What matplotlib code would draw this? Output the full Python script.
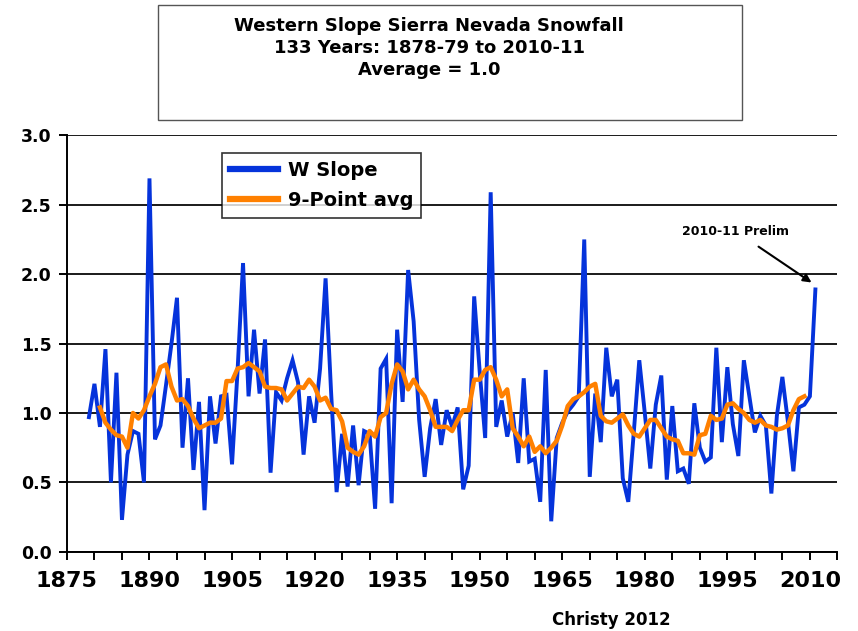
import matplotlib
matplotlib.use("Agg")
import matplotlib.pyplot as plt
from matplotlib.ticker import MultipleLocator, FormatStrFormatter
from matplotlib.patches import Rectangle

# ---- data ----
first_year = 1879
w_slope = [0.97, 1.21, 0.90, 1.46, 0.50, 1.29, 0.23, 0.70, 0.87, 0.85,
           0.50, 2.69, 0.81, 0.91, 1.20, 1.50, 1.83, 0.75, 1.25, 0.59,
           1.08, 0.30, 1.12, 0.78, 1.12, 1.13, 0.63, 1.30, 2.08, 1.12,
           1.60, 1.14, 1.53, 0.57, 1.15, 1.09, 1.25, 1.38, 1.22, 0.70,
           1.12, 0.93, 1.32, 1.97, 1.15, 0.43, 0.85, 0.47, 0.91, 0.48,
           0.87, 0.85, 0.31, 1.32, 1.39, 0.35, 1.60, 1.08, 2.03, 1.66,
           0.95, 0.54, 0.89, 1.10, 0.77, 1.02, 0.90, 1.04, 0.45, 0.62,
           1.84, 1.30, 0.82, 2.59, 0.90, 1.09, 0.83, 1.00, 0.64, 1.25,
           0.65, 0.67, 0.36, 1.31, 0.22, 0.82, 0.93, 1.01, 1.06, 1.12,
           2.25, 0.54, 1.14, 0.79, 1.47, 1.12, 1.24, 0.53, 0.36, 0.86,
           1.38, 1.00, 0.60, 1.06, 1.27, 0.52, 1.05, 0.58, 0.60, 0.49,
           1.07, 0.75, 0.65, 0.68, 1.47, 0.79, 1.33, 0.92, 0.69, 1.38,
           1.12, 0.86, 0.98, 0.91, 0.42, 0.98, 1.26, 0.94, 0.58, 1.04,
           1.06, 1.12, 1.89]
w_years = list(range(first_year, first_year + len(w_slope)))

avg_first_year = 1881
avg9 = [1.04, 0.93, 0.88, 0.84, 0.83, 0.75, 1.00, 0.96, 1.02, 1.12,
        1.21, 1.33, 1.35, 1.19, 1.09, 1.10, 1.05, 0.96, 0.89, 0.91,
        0.93, 0.93, 0.96, 1.23, 1.23, 1.32, 1.33, 1.36, 1.33, 1.30,
        1.19, 1.18, 1.18, 1.17, 1.09, 1.14, 1.19, 1.18, 1.24, 1.19,
        1.09, 1.11, 1.03, 1.02, 0.94, 0.75, 0.72, 0.70, 0.76, 0.87,
        0.83, 0.97, 1.00, 1.21, 1.35, 1.30, 1.17, 1.24, 1.17, 1.12,
        1.02, 0.90, 0.90, 0.90, 0.87, 0.95, 1.02, 1.02, 1.24, 1.24,
        1.31, 1.33, 1.24, 1.12, 1.17, 0.89, 0.83, 0.76, 0.83, 0.72,
        0.76, 0.71, 0.75, 0.80, 0.91, 1.05, 1.10, 1.12, 1.15, 1.19,
        1.21, 0.98, 0.94, 0.93, 0.96, 0.99, 0.91, 0.85, 0.83, 0.89,
        0.95, 0.95, 0.89, 0.83, 0.81, 0.80, 0.71, 0.71, 0.70, 0.84,
        0.85, 0.98, 0.95, 0.96, 1.06, 1.07, 1.03, 1.00, 0.95, 0.93,
        0.95, 0.91, 0.90, 0.88, 0.89, 0.91, 1.02, 1.10, 1.12]
avg_years = list(range(avg_first_year, avg_first_year + len(avg9)))

title_lines = ["Western Slope Sierra Nevada Snowfall",
               "133 Years: 1878-79 to 2010-11",
               "Average = 1.0"]
series_names = ["W Slope", "9-Point avg"]
annotation_text = "2010-11 Prelim"
credit_text = "Christy 2012"

# ---- figure ----
fig = plt.figure(figsize=(8.58, 6.31), dpi=100)
ax = fig.add_axes([0.078, 0.1255, 0.898, 0.660])

ax.plot(w_years, w_slope, color="#0533DB", lw=2.8, label=series_names[0],
        solid_joinstyle="miter", zorder=3)
ax.plot(avg_years, avg9, color="#FF8000", lw=3.2, label=series_names[1], zorder=4)

ax.set_xlim(1875, 2015)
ax.set_ylim(0, 3.0)
ax.yaxis.set_major_locator(MultipleLocator(0.5))
ax.yaxis.set_major_formatter(FormatStrFormatter("%.1f"))
ax.xaxis.set_major_locator(MultipleLocator(15))
ax.xaxis.set_minor_locator(MultipleLocator(5))

ax.grid(axis="y", color="#1a1a1a", lw=1.4, zorder=1)
for s in ["top", "right"]:
    ax.spines[s].set_visible(False)
for s in ["left", "bottom"]:
    ax.spines[s].set_color("black")
    ax.spines[s].set_linewidth(1.4)

ax.tick_params(axis="y", direction="out", length=6, width=1.4, labelsize=12.5, pad=5)
ax.tick_params(axis="x", which="both", direction="out", length=6, width=1.4)
ax.tick_params(axis="x", which="major", labelsize=16, pad=8)
for lab in ax.get_xticklabels() + ax.get_yticklabels():
    lab.set_fontweight("bold")

leg = ax.legend(loc="upper left", bbox_to_anchor=(0.201, 0.957), borderaxespad=0,
                frameon=True, fancybox=False, edgecolor="black",
                prop={"weight": "bold", "size": 14},
                handlelength=2.5, borderpad=0.4, labelspacing=0.55, handletextpad=0.5)
leg.get_frame().set_linewidth(1.2)
for h in leg.get_lines():
    h.set_linewidth(4.5)

ax.annotate(annotation_text, xy=(2010.3, 1.94), xytext=(1996.5, 2.31),
            fontsize=9, fontweight="bold", ha="center", va="center",
            arrowprops=dict(arrowstyle="-|>", color="black", lw=1.5,
                            shrinkA=8, shrinkB=0, mutation_scale=12))

# title box
fig.text(0.5, 1 - 48/631, "\n".join(title_lines), ha="center", va="center",
         fontsize=13, fontweight="bold", linespacing=1.3)
fig.patches.append(Rectangle((158/858, 1-120/631), (742-158)/858, (120-5)/631,
                             transform=fig.transFigure, fill=False, ec="#555555", lw=1))

fig.text(611/858, 1-620/631, credit_text, ha="center", va="center",
         fontsize=12, fontweight="bold", family="Liberation Sans Narrow")

fig.savefig("out.png", dpi=100)
